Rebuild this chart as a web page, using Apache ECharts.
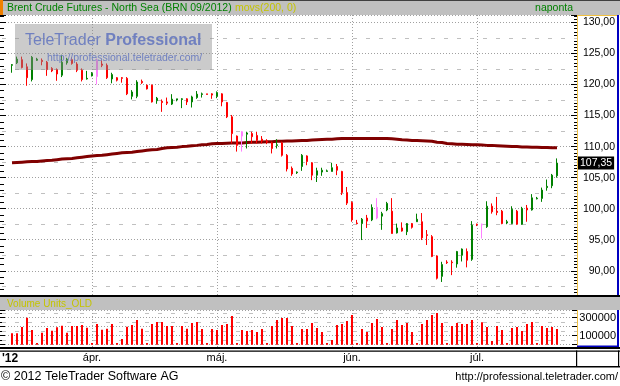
<!DOCTYPE html>
<html><head><meta charset="utf-8">
<script src="https://cdn.jsdelivr.net/npm/echarts/dist/echarts.min.js"></script>
<style>html,body{margin:0;padding:0;background:#fff}#c{width:620px;height:386px}</style>
</head><body><div id="c"></div>
<script>
// ---- data ----
const openP  = [123.1,123.5,124.0,122.85,120.8,123.9,123.9,123.6,122.6,122.4,121.5,123.5,124.0,123.3,122.3,120.9,121.4,121.3,123.3,123.1,120.9,121.1,121.1,121.0,118.1,118.1,120.5,119.9,119.9,117.4,117.3,117.2,116.85,117.5,117.6,117.7,117.2,117.9,118.4,118.5,118.5,118.1,118.5,117.1,114.8,111.7,111.7,112.0,112.1,111.8,111.2,110.9,110.6,110.2,110.6,108.6,106.5,105.8,106.8,108.5,107.4,105.4,105.9,106.0,106.0,106.8,106.0,102.6,101.0,97.7,97.6,98.5,98.2,100.2,98.8,99.8,99.6,96.1,96.9,96.3,97.6,97.9,97.9,95.8,95.5,92.4,89.1,91.4,91.4,91.1,92.5,93.1,91.85,97.5,97.5,97.1,100.4,99.6,99.6,97.7,97.6,99.6,97.5,100.1,99.8,101.6,101.66,103.4,103.7,105.3];
const closeP = [123.2,124.1,122.75,121.1,124.4,124.1,123.7,122.4,122.2,121.7,123.6,124.1,123.4,122.3,120.8,121.0,121.8,123.9,123.1,121.1,121.6,120.7,121.0,118.5,118.8,120.4,120.3,119.3,117.2,117.8,117.1,117.0,117.65,117.7,117.7,117.2,118.0,118.45,118.5,118.4,118.3,118.7,117.2,114.8,112.1,110.2,112.4,112.2,111.6,111.0,110.9,110.7,109.7,110.3,108.6,106.4,105.6,105.9,108.6,107.6,105.4,106.1,106.2,106.1,106.6,106.2,102.6,100.9,98.2,97.6,98.3,98.0,100.2,98.5,99.2,100.85,96.0,96.9,96.4,97.6,97.0,98.3,95.3,95.7,92.3,88.8,91.0,91.3,91.3,93.1,93.5,91.7,97.35,97.4,97.4,100.4,99.5,99.4,97.6,97.9,99.9,97.5,100.05,99.8,101.75,101.7,103.0,103.6,105.4,107.35];
const lowP   = [121.9,123.3,122.6,119.8,120.5,123.8,123.1,121.4,122.0,120.6,121.2,123.2,123.2,122.0,120.5,120.8,121.3,120.0,122.8,120.9,120.2,120.5,120.3,118.3,117.6,117.8,120.1,119.2,117.1,116.9,115.6,116.7,116.7,117.3,116.2,116.7,116.3,117.7,117.9,118.4,117.7,117.8,116.5,114.6,110.5,109.2,109.2,109.7,110.5,110.5,110.5,110.4,108.9,109.7,108.4,106.0,105.3,105.6,106.1,107.0,104.6,104.3,105.3,106.0,106.0,105.4,102.2,100.6,97.9,97.5,94.95,96.9,98.0,98.3,96.6,99.6,96.0,96.0,96.3,95.75,96.8,97.9,94.95,94.15,92.2,88.6,88.2,91.1,89.3,90.5,91.5,90.55,91.6,97.2,95.2,96.9,99.2,98.95,97.5,97.5,97.5,97.4,97.4,97.9,99.7,101.5,101.1,102.9,103.3,105.0];
const highP  = [123.3,124.5,124.5,123.4,124.6,124.3,124.2,123.8,122.8,122.6,124.8,124.3,124.4,123.6,122.6,122.2,122.0,124.2,123.9,123.4,121.9,121.2,121.2,121.2,119.1,120.7,120.8,120.0,120.0,118.0,117.6,117.9,118.45,117.7,117.8,117.8,118.2,118.95,118.7,118.5,118.6,118.9,118.6,117.2,115.1,111.8,112.5,112.4,112.4,112.4,111.7,111.2,110.8,111.2,110.8,108.8,106.8,106.0,108.8,108.6,107.5,106.6,106.6,106.3,107.4,107.2,106.1,103.5,101.2,98.2,98.5,99.0,100.7,101.7,99.5,101.1,101.7,97.6,97.8,97.7,97.7,99.2,99.3,96.56,95.75,92.5,91.45,91.7,91.7,93.2,93.6,93.6,98.0,97.6,97.6,101.2,100.85,101.9,99.8,98.2,100.4,99.8,100.3,100.6,102.35,101.9,103.4,104.7,105.6,108.1];
const pinkIdx = [17,46,73,94];
const ma200 = [107.4,107.45,107.5,107.55,107.6,107.6,107.7,107.75,107.8,107.9,108.0,108.05,108.1,108.2,108.3,108.4,108.5,108.55,108.6,108.7,108.8,108.9,109.0,109.05,109.1,109.2,109.3,109.4,109.5,109.55,109.7,109.8,109.85,109.9,110.0,110.05,110.15,110.2,110.3,110.35,110.45,110.5,110.5,110.55,110.6,110.6,110.6,110.65,110.7,110.7,110.75,110.8,110.8,110.85,110.85,110.9,110.9,110.95,111.0,111.0,111.05,111.1,111.15,111.2,111.2,111.25,111.3,111.3,111.3,111.3,111.3,111.3,111.3,111.3,111.3,111.3,111.25,111.2,111.1,111.05,111.0,111.0,110.95,110.9,110.85,110.7,110.65,110.5,110.45,110.4,110.4,110.35,110.3,110.3,110.25,110.2,110.2,110.15,110.1,110.05,110.0,110.0,109.95,109.95,109.9,109.9,109.85,109.85,109.8,109.8];
const volume = [126000,126000,196000,300000,163000,20000,133000,185000,156000,193000,211000,133000,207000,207000,219000,189000,20000,230000,167000,178000,230000,20000,63000,200000,219000,274000,178000,20000,230000,252000,252000,207000,207000,20000,207000,178000,241000,252000,174000,20000,174000,163000,219000,230000,319000,20000,163000,152000,163000,141000,174000,20000,207000,274000,296000,296000,207000,20000,174000,174000,241000,185000,141000,20000,52000,219000,230000,263000,330000,20000,174000,141000,241000,285000,196000,20000,174000,274000,218000,241000,141000,20000,230000,274000,330000,352000,241000,20000,207000,241000,230000,230000,274000,20000,248000,196000,41000,207000,163000,20000,185000,196000,152000,230000,252000,20000,207000,185000,196000,174000];
const monthStarts = [16,41,68,93];
const monthLabels = ['ápr.','máj.','jún.','júl.'];
const yearLabel = "'12";
const priceHalfLines = [87.5,92.5,97.5,102.5,107.5,112.5,117.5,122.5,127.5];
const volHalfLines = [50000,150000,250000,350000];
const PADL = 2, PADR = 4;

// ---- build ----
const N = openP.length;
const cats = [];
for (let i = 0; i < PADL + N + PADR; i++) cats.push('d' + i);
const UP = '#008000', DOWN = '#ff0000', PINK = '#ff80ff';
const candleData = openP.map((o, i) => {
  const item = { value: [PADL + i, o, closeP[i], lowP[i], highP[i]] };
  if (pinkIdx.indexOf(i) >= 0) item.itemStyle = { color: PINK, color0: PINK, borderColor: PINK, borderColor0: PINK };
  return item;
});
const maData = ma200.map((v, i) => [PADL + i, v]);
const volData = volume.map((v, i) => [PADL + i, v]);
const isMonth = (idx) => monthStarts.indexOf(idx - PADL) >= 0;
const FF = 'Liberation Sans, Arial, sans-serif';
const dotted = { color: '#a0a0a0', type: [1, 2], width: 1 };
const dashed = { color: '#c0c0c0', type: [4, 9], width: 1 };
const lastClose = closeP[N - 1];

const chart = echarts.init(document.getElementById('c'), null, { renderer: 'canvas' });
const priceMin = 86.1, priceMax = 131.2, volMin = -25000, volMax = 385000;

function xAx(gi, labels) {
  return {
    type: 'category', gridIndex: gi, data: cats, boundaryGap: false,
    axisLine: { show: false }, axisTick: { show: false },
    axisLabel: labels ? {
      show: true, interval: (i) => isMonth(i), margin: 5, fontSize: 11, color: '#000', fontFamily: FF,
      formatter: (v, i) => monthLabels[monthStarts.indexOf(i - PADL)] || ''
    } : { show: false },
    splitLine: { show: true, interval: (i) => isMonth(i), lineStyle: dotted }
  };
}

chart.setOption({
  animation: false,
  backgroundColor: '#fff',
  grid: [
    { left: 2, width: 575, top: 15, height: 280 },
    { left: 2, width: 575, top: 310, height: 37 }
  ],
  xAxis: [xAx(0, false), xAx(1, true)],
  yAxis: [
    { type: 'value', gridIndex: 0, position: 'right', min: priceMin, max: priceMax, minInterval: 5, maxInterval: 5,
      axisLine: { show: true, lineStyle: { color: '#f0c040', width: 1 } },
      axisTick: { show: true, inside: true, length: 6, lineStyle: { color: '#000' } },
      minorTick: { show: true, splitNumber: 10, length: 3, lineStyle: { color: '#000' } },
      axisLabel: { show: true, align: 'right', margin: 38, fontSize: 10.5, color: '#000', fontFamily: FF,
        showMinLabel: false, showMaxLabel: false,
        formatter: (v) => v.toFixed(2).replace('.', ',') },
      splitLine: { show: true, lineStyle: dotted } },
    { type: 'value', gridIndex: 0, position: 'left', offset: 2, min: priceMin, max: priceMax, minInterval: 5, maxInterval: 5,
      axisLine: { show: false },
      axisTick: { show: true, inside: true, length: 6, lineStyle: { color: '#000' } },
      minorTick: { show: true, splitNumber: 5, length: 4, lineStyle: { color: '#000' } },
      axisLabel: { show: false }, splitLine: { show: false } },
    { type: 'value', gridIndex: 1, position: 'right', min: volMin, max: volMax, minInterval: 100000, maxInterval: 100000,
      axisLine: { show: true, lineStyle: { color: '#f0c040', width: 1 } },
      axisTick: { show: true, inside: true, length: 5, lineStyle: { color: '#000' } },
      minorTick: { show: true, splitNumber: 2, length: 3, lineStyle: { color: '#000' } },
      axisLabel: { show: true, align: 'right', margin: 39, fontSize: 11, color: '#000', fontFamily: FF,
        showMinLabel: false, showMaxLabel: false,
        formatter: (v) => (v === 100000 || v === 300000) ? String(v) : '' },
      splitLine: { show: true, lineStyle: dotted } },
    { type: 'value', gridIndex: 1, position: 'left', offset: 2, min: volMin, max: volMax, minInterval: 100000, maxInterval: 100000,
      axisLine: { show: false },
      axisTick: { show: true, inside: true, length: 5, lineStyle: { color: '#000' } },
      minorTick: { show: true, splitNumber: 2, length: 3, lineStyle: { color: '#000' } },
      axisLabel: { show: false }, splitLine: { show: false } }
  ],
  series: [
    { type: 'line', xAxisIndex: 0, yAxisIndex: 0, data: maData, symbol: 'none', z: 3,
      lineStyle: { color: '#800000', width: 3 },
      markLine: { silent: true, symbol: 'none', label: { show: false }, lineStyle: dashed, z: 1,
        data: priceHalfLines.map(v => ({ yAxis: v })) } },
    { type: 'candlestick', xAxisIndex: 0, yAxisIndex: 0, data: candleData, barWidth: 2, z: 4,
      encode: { x: 0, y: [1, 2, 3, 4] },
      itemStyle: { color: UP, color0: DOWN, borderColor: UP, borderColor0: DOWN, borderWidth: 1 },
      markLine: { silent: true, symbol: 'none', lineStyle: { color: 'transparent', width: 0 },
        label: { show: true, position: 'end', distance: 1, formatter: () => lastClose.toFixed(2).replace('.', ','),
          backgroundColor: '#000', color: '#fff', fontSize: 10.5, fontFamily: FF, padding: [1, 2, 1, 2] },
        data: [{ yAxis: lastClose }] } },
    { type: 'bar', xAxisIndex: 1, yAxisIndex: 2, data: volData, barWidth: 2, z: 3,
      itemStyle: { color: '#ff0000' },
      markLine: { silent: true, symbol: 'none', label: { show: false }, lineStyle: dashed, z: 1,
        data: volHalfLines.map(v => ({ yAxis: v })) } }
  ],
  graphic: { elements: [
    // header
    { type: 'rect', shape: { x: 0, y: 0, width: 620, height: 15 }, style: { fill: '#c0c0c0' }, z: 10 },
    { type: 'rect', shape: { x: 0, y: 0, width: 620, height: 1 }, style: { fill: '#404040' }, z: 10 },
    { type: 'rect', shape: { x: 0, y: 0, width: 3, height: 15 }, style: { fill: '#f08000' }, z: 11 },
    { type: 'text', x: 7, y: 8, style: { text: 'Brent Crude Futures - North Sea (BRN 09/2012)', fill: '#008000', font: '10.5px ' + FF, verticalAlign: 'middle' }, z: 11 },
    { type: 'text', x: 235, y: 8, style: { text: 'movs(200, 0)', fill: '#c4c400', font: '10.5px ' + FF, verticalAlign: 'middle' }, z: 11 },
    { type: 'text', x: 573, y: 8, style: { text: 'naponta', fill: '#008000', font: '10.5px ' + FF, align: 'right', verticalAlign: 'middle' }, z: 11 },
    // right axis box borders
    { type: 'rect', shape: { x: 577, y: 15, width: 41, height: 1 }, style: { fill: '#f0c040' }, z: 10 },
    { type: 'rect', shape: { x: 617, y: 15, width: 2, height: 280 }, style: { fill: '#0000c0' }, z: 10 },
    // pane separator
    { type: 'rect', shape: { x: 0, y: 295, width: 620, height: 2 }, style: { fill: '#000' }, z: 10 },
    { type: 'rect', shape: { x: 0, y: 297, width: 620, height: 13 }, style: { fill: '#c0c0c0' }, z: 10 },
    { type: 'text', x: 7, y: 304, style: { text: 'Volume Units_OLD', fill: '#c4c400', font: '10px ' + FF, verticalAlign: 'middle' }, z: 11 },
    { type: 'rect', shape: { x: 617, y: 310, width: 2, height: 37 }, style: { fill: '#0000c0' }, z: 10 },
    { type: 'rect', shape: { x: 577, y: 345.5, width: 42, height: 1.5 }, style: { fill: '#0000c0' }, z: 10 },
    // x label row
    { type: 'rect', shape: { x: 0, y: 347, width: 620, height: 2 }, style: { fill: '#000' }, z: 10 },
    { type: 'rect', shape: { x: 0, y: 350.5, width: 620, height: 1.2 }, style: { fill: '#000' }, z: 10 },
    { type: 'rect', shape: { x: 0, y: 366, width: 620, height: 1.5 }, style: { fill: '#000' }, z: 10 },
    { type: 'rect', shape: { x: 576, y: 350.5, width: 1.2, height: 16 }, style: { fill: '#000' }, z: 10 },
    { type: 'rect', shape: { x: 618, y: 350.5, width: 1.2, height: 16 }, style: { fill: '#000' }, z: 10 },
    { type: 'text', x: 2, y: 358.5, style: { text: yearLabel, fill: '#000', font: 'bold 12px ' + FF, verticalAlign: 'middle' }, z: 11 },
    // footer
    { type: 'text', x: 1, y: 377, style: { text: '© 2012 TeleTrader Software AG', fill: '#000', font: '12.5px ' + FF, verticalAlign: 'middle' }, z: 11 },
    { type: 'text', x: 618, y: 377, style: { text: 'http://professional.teletrader.com/', fill: '#000', font: '11px ' + FF, align: 'right', verticalAlign: 'middle' }, z: 11 },
    // watermark
    { type: 'rect', shape: { x: 15, y: 24, width: 197, height: 46 }, style: { fill: 'rgba(140,140,140,0.45)' }, z: 100 },
    { type: 'text', x: 25, y: 41, z: 101, style: { text: '{a|TeleTrader }{b|Professional}', verticalAlign: 'middle',
        rich: { a: { fontSize: 16, fontFamily: FF, fill: '#7080c0' }, b: { fontSize: 16, fontFamily: FF, fontWeight: 'bold', fill: '#7080c0' } } } },
    { type: 'text', x: 47, y: 58.5, z: 101, style: { text: 'http://professional.teletrader.com/', fill: '#7080c0', font: '10.5px ' + FF, verticalAlign: 'middle' } }
  ] }
});
</script>
</body></html>
